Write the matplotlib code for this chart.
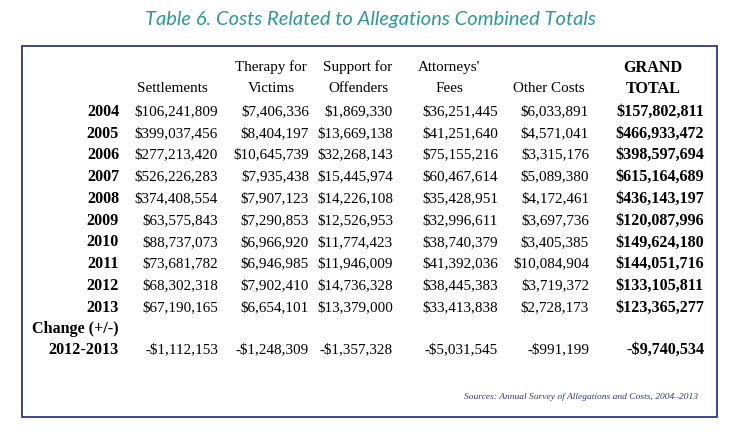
import matplotlib.pyplot as plt
from matplotlib.patches import Rectangle

# data
years = ['2004', '2005', '2006', '2007', '2008', '2009', '2010', '2011', '2012', '2013']
settlements = [106241809, 399037456, 277213420, 526226283, 374408554, 63575843, 88737073, 73681782, 68302318, 67190165]
therapy = [7406336, 8404197, 10645739, 7935438, 7907123, 7290853, 6966920, 6946985, 7902410, 6654101]
support = [1869330, 13669138, 32268143, 15445974, 14226108, 12526953, 11774423, 11946009, 14736328, 13379000]
attorneys = [36251445, 41251640, 75155216, 60467614, 35428951, 32996611, 38740379, 41392036, 38445383, 33413838]
other = [6033891, 4571041, 3315176, 5089380, 4172461, 3697736, 3405385, 10084904, 3719372, 2728173]
grand_total = [157802811, 466933472, 398597694, 615164689, 436143197, 120087996, 149624180, 144051716, 133105811, 123365277]
change_2012_2013 = [-1112153, -1248309, -1357328, -5031545, -991199, -9740534]

headers = [('', 'Settlements'), ('Therapy for', 'Victims'), ('Support for', 'Offenders'),
           ('Attorneys\'', 'Fees'), ('', 'Other Costs'), ('GRAND', 'TOTAL')]

def money(v):
    return f"-${abs(v):,}" if v < 0 else f"${v:,}"

fig = plt.figure(figsize=(7.39, 4.32), dpi=100)
ax = fig.add_axes([0, 0, 1, 1])
ax.set_xlim(0, 739)
ax.set_ylim(432, 0)
ax.axis('off')

serif = 'Liberation Serif'
fs = 10.9      # regular cells
fsb = 11.6     # bold cells
base = 5       # baseline offset from row centre (px)

def cell(x, y, s, bold=False, ha='right'):
    off = base + (0.7 if bold else 0)
    ax.text(x, y + off, s, ha=ha, va='baseline', fontsize=fsb if bold else fs,
            family=serif, weight='bold' if bold else 'normal')

ax.text(370, 19, 'Table 6. Costs Related to Allegations Combined Totals', ha='center', va='center',
        fontsize=14.5, style='italic', color='#2e9896', family='Lato')
ax.add_patch(Rectangle((21.5, 46), 695, 371, fill=False, edgecolor='#2c3a7a', lw=1.3))

col_right = [218, 309, 393, 498, 589, 704]
head_center = [172, 271, 358, 449, 549, 653]
columns = [settlements, therapy, support, attorneys, other, grand_total]

for i, (h1, h2) in enumerate(headers):
    if h1:
        cell(head_center[i], 66, h1, bold=(i == 5), ha='center')
    cell(head_center[i], 87, h2, bold=(i == 5), ha='center')

row_y = [110 + 21.8 * k for k in range(len(years))]
for k, yr in enumerate(years):
    y = row_y[k]
    cell(119, y, yr, bold=True)
    for i, col in enumerate(columns):
        cell(col_right[i], y, money(col[k]), bold=(i == 5))

cell(119, 327.5, 'Change (+/-)', bold=True)
cell(119, 348, '2012-2013', bold=True)
for i, v in enumerate(change_2012_2013):
    cell(col_right[i], 348, money(v), bold=(i == 5))

ax.text(698, 397, 'Sources: Annual Survey of Allegations and Costs, 2004\u20132013', ha='right', va='center',
        fontsize=6.8, family=serif, style='italic', color='#2c3a7a')

fig.savefig('out.png', dpi=100)
